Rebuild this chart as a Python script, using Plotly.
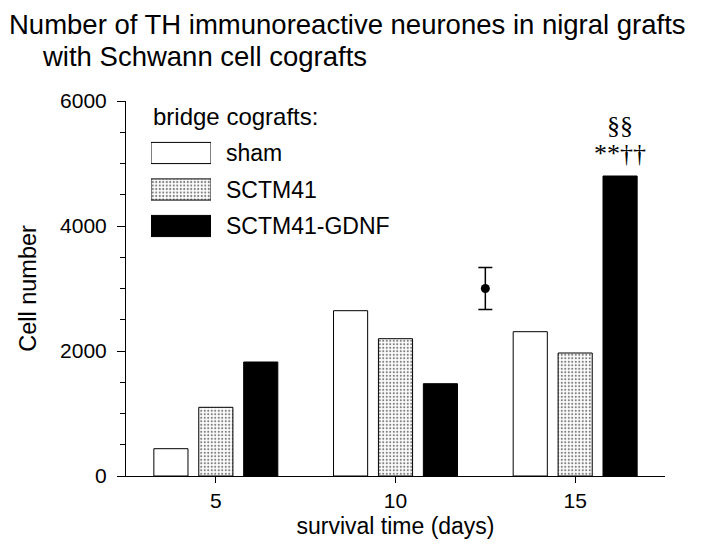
import plotly.graph_objects as go

# ---- data ----
days = [5, 10, 15]
groups = ["sham", "SCTM41", "SCTM41-GDNF"]
sham = [437, 2645, 2309]
sctm41 = [1099, 2197, 1968]
gdnf = [1824, 1477, 4800]
ref_x = [12.5]
ref_y = [3000]
ref_err = [335]
sig_top = "§§"
sig_bottom = "**††"
y_ticks = [0, 2000, 4000, 6000]

W, H = 720, 544
OFF = 8  # page body margin
L, R, T, B = 118, 63, 93, 76
PW, PH = W - L - R, H - T - B


def px_x(p):
    return (p - OFF - L) / PW


def px_y(p):
    return (H - B - (p - OFF)) / PH


FONT = "Liberation Sans, Arial, Helvetica, sans-serif"
SERIF = "Liberation Serif, Times New Roman, serif"

bar_w = 0.95
step = 1.25
styles = [
    dict(color="white", pattern=None),
    dict(color="white", pattern=dict(shape=".", size=3.5, solidity=0.3, fgcolor="black", bgcolor="white")),
    dict(color="black", pattern=None),
]
series = [sham, sctm41, gdnf]

fig = go.Figure()
for i, (name, vals, st) in enumerate(zip(groups, series, styles)):
    marker = dict(color=st["color"], line=dict(color="black", width=1))
    if st["pattern"]:
        marker["pattern"] = st["pattern"]
    fig.add_trace(go.Bar(
        x=days, y=vals, name=name, width=bar_w,
        offset=-bar_w / 2 + (i - 1) * step,
        marker=marker, showlegend=False, hoverinfo="skip",
    ))

fig.add_trace(go.Scatter(
    x=ref_x, y=ref_y, mode="markers",
    marker=dict(color="black", size=9),
    error_y=dict(type="data", array=ref_err, color="black", thickness=1.5, width=7),
    showlegend=False, hoverinfo="skip",
))

# legend swatches on an overlay axis
for i, (name, st) in enumerate(zip(groups, styles)):
    marker = dict(color=st["color"], line=dict(color="black", width=1))
    if st["pattern"]:
        marker["pattern"] = st["pattern"]
    fig.add_trace(go.Bar(
        x=[1], y=[name], orientation="h", width=0.58, base=0,
        marker=marker, xaxis="x2", yaxis="y2", showlegend=False, hoverinfo="skip",
    ))

row = 36.5
leg_top = 153 - row / 2
fig.update_layout(
    xaxis2=dict(domain=[px_x(151), px_x(211)], range=[0, 1], visible=False, anchor="y2"),
    yaxis2=dict(domain=[px_y(leg_top + 3 * row), px_y(leg_top)], range=[2.5, -0.5],
                visible=False, anchor="x2", type="category"),
)

TITLE_SIZE = 27.5
annotations = []
for name in groups:
    annotations.append(dict(
        x=1, y=name, xref="x2", yref="y2", text=name, showarrow=False,
        xanchor="left", yanchor="middle", xshift=13,
        font=dict(family=FONT, size=23, color="black"),
    ))
annotations.append(dict(
    x=px_x(151), y=px_y(117), xref="paper", yref="paper", text="bridge cografts:",
    showarrow=False, xanchor="left", yanchor="middle",
    font=dict(family=FONT, size=24, color="black"),
))
annotations.append(dict(
    x=px_x(8), y=px_y(8), xref="paper", yref="paper",
    text="Number of TH immunoreactive neurones in nigral grafts",
    showarrow=False, xanchor="left", yanchor="top", borderpad=0,
    font=dict(family=FONT, size=TITLE_SIZE, color="black"),
))
annotations.append(dict(
    x=px_x(41), y=px_y(8 + 1.16 * TITLE_SIZE), xref="paper", yref="paper",
    text="with Schwann cell cografts",
    showarrow=False, xanchor="left", yanchor="top", borderpad=0,
    font=dict(family=FONT, size=TITLE_SIZE, color="black"),
))
annotations.append(dict(
    x=days[2] + step, y=gdnf[2], text=sig_bottom, showarrow=False,
    xanchor="center", yanchor="bottom", yshift=6,
    font=dict(family=SERIF, size=26, color="black"),
))
annotations.append(dict(
    x=days[2] + step, y=gdnf[2], text=sig_top, showarrow=False,
    xanchor="center", yanchor="bottom", yshift=34,
    font=dict(family=SERIF, size=26, color="black"),
))

fig.update_layout(
    width=W, height=H,
    margin=dict(l=L, r=R, t=T, b=B, pad=0),
    paper_bgcolor="white", plot_bgcolor="white",
    barmode="overlay",
    font=dict(family=FONT, color="black"),
    annotations=annotations,
    xaxis=dict(
        range=[2.5, 17.5], tickvals=days, ticktext=[str(d) for d in days],
        showline=True, linecolor="black", linewidth=1, ticks="outside", ticklen=6,
        tickcolor="black", showgrid=False, zeroline=False,
        tickfont=dict(family=FONT, size=21),
        title=dict(text="survival time (days)", font=dict(family=FONT, size=23), standoff=6),
    ),
    yaxis=dict(
        range=[0, 6000], tickvals=y_ticks,
        showline=True, linecolor="black", linewidth=1, ticks="outside", ticklen=8,
        tickcolor="black", showgrid=False, zeroline=False,
        ticklabelstandoff=6,
        tickfont=dict(family=FONT, size=21),
        minor=dict(dtick=500, ticks="outside", ticklen=5, tickcolor="black", showgrid=False),
        title=dict(text="Cell number", font=dict(family=FONT, size=23.5), standoff=16),
    ),
)

fig.write_html("out.html")
